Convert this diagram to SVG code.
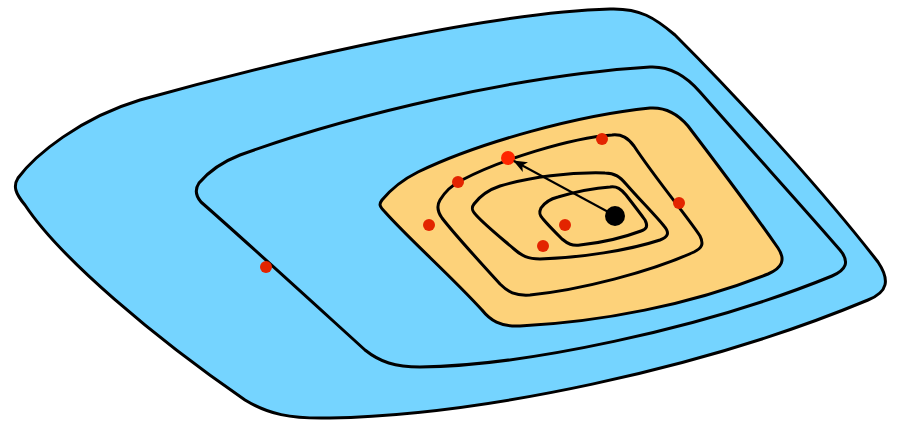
<svg xmlns="http://www.w3.org/2000/svg" width="899" height="421" viewBox="0 0 899 421">
<style>
.c{fill:none;stroke:#000;stroke-width:3;stroke-linejoin:round}
.d{fill:#e32400}
</style>
<defs>
<marker id="ah" viewBox="0 0 14 11" refX="13" refY="5.5" markerWidth="14" markerHeight="11" markerUnits="userSpaceOnUse" orient="auto">
<path d="M0,0 L14,5.5 L0,11 L3.5,5.5 Z" fill="#000"/>
</marker>
</defs>
<g id="outer">
<path d="M18,178 C35,155 80,118 140,100 C300,55 500,12 610,9 C640,8 655,18 675,35 C750,110 830,200 878,262 C890,280 888,292 868,300 C700,370 480,415 330,418 C290,419 268,414 245,400 C155,338 60,258 25,205 C15,193 13,186 18,178 Z" fill="#75d4ff" stroke="#000" stroke-width="3"/>
</g>
<g id="middle">
<path class="c" d="M199,183 C210,170 222,162 240,155 C350,115 520,75 650,67 C672,66 688,78 700,92 C760,160 810,215 840,250 C850,262 846,270 832,276 C700,330 520,366 420,367 C395,367 380,362 365,350 C310,300 250,245 201,202 C195,195 195,189 199,183 Z"/>
</g>
<g id="orange">
<path d="M382,200 C392,188 402,180 418,172 C480,142 580,115 650,108 C666,107 678,114 688,126 C720,168 755,215 778,248 C786,260 782,268 768,274 C690,305 600,322 520,326 C500,327 490,320 482,310 C450,275 410,240 385,212 C379,206 379,204 382,200 Z" fill="#fdd27a" stroke="#000" stroke-width="3"/>
</g>
<g id="contour1">
<path class="c" d="M440,200 C446,190 452,185 462,180 C500,160 570,138 612,135 C622,134 628,138 634,146 C655,178 690,220 700,236 C704,244 702,248 694,252 C650,272 580,290 530,295 C515,296 508,292 500,284 C480,262 455,235 442,218 C437,211 437,205 440,200 Z"/>
</g>
<g id="contour2">
<path class="c" d="M474,204 C480,196 488,190 500,186 C530,177 570,172 605,173 C615,173 620,177 626,184 C640,200 655,215 664,226 C670,233 668,237 660,240 C630,250 580,258 540,259 C528,259 522,256 514,249 C500,237 485,225 476,215 C472,211 471,208 474,204 Z"/>
</g>
<g id="contour3">
<path class="c" d="M541,208 C545,202 550,199 558,197 C575,192 595,188 610,187 C617,186 621,189 626,195 C633,204 640,213 645,220 C648,226 647,229 641,231 C625,237 600,243 580,245 C572,246 568,244 562,239 C555,232 548,225 543,219 C539,215 539,212 541,208 Z"/>
</g>
<g id="dots">
<circle class="d" cx="602" cy="139" r="6"/>
<circle cx="508" cy="158" r="7" fill="#ff2600"/>
<circle class="d" cx="458" cy="182" r="6"/>
<circle class="d" cx="429" cy="225" r="6"/>
<circle class="d" cx="679" cy="203" r="6"/>
<circle class="d" cx="565" cy="225" r="6"/>
<circle class="d" cx="543" cy="246" r="6"/>
<circle class="d" cx="266" cy="267" r="6"/>
<circle id="current" cx="615" cy="216" r="10" fill="#000"/>
</g>
<g id="connectors">
<line x1="612" y1="214" x2="514" y2="161" stroke="#000" stroke-width="2" marker-end="url(#ah)"/>
</g>
</svg>
